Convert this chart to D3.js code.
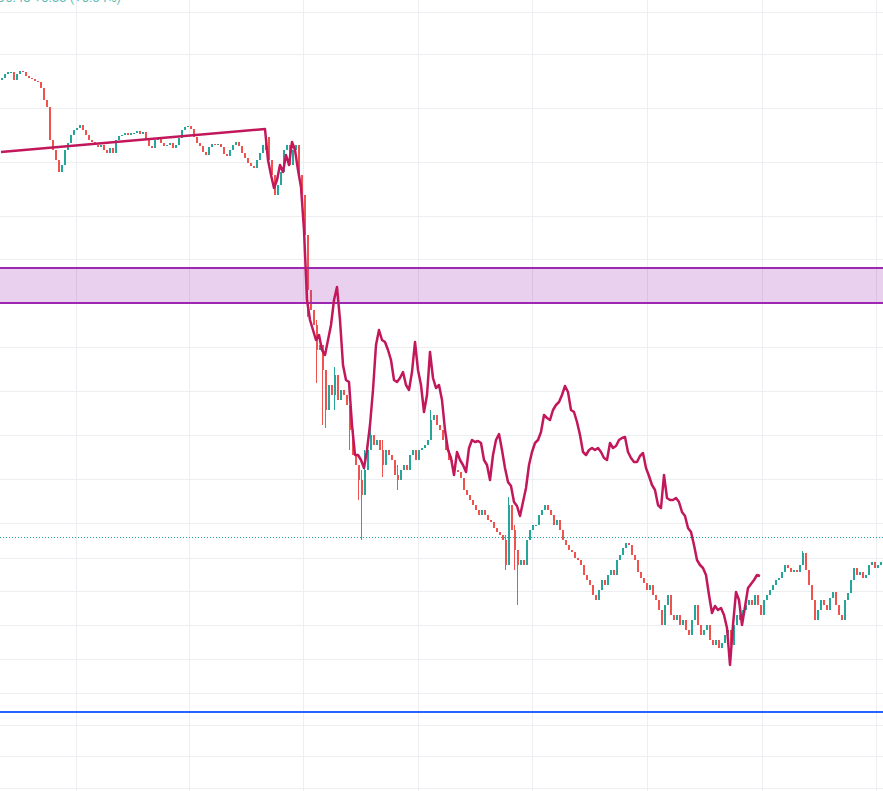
<!DOCTYPE html>
<html><head><meta charset="utf-8">
<script src="https://cdn.jsdelivr.net/npm/d3@7"></script>
<style>html,body{margin:0;padding:0;background:#fff;overflow:hidden}</style>
</head><body>
<svg id="chart" width="883" height="791"></svg>
<script>
// ---- data ----
const closes = [92.2,92.6,92.8,92.8,92.0,92.6,92.9,92.8,92.4,92.2,92.1,91.9,91.8,91.2,90.0,89.3,86.0,85.0,84.0,82.8,83.5,85.0,85.7,86.5,87.0,87.2,87.5,87.0,86.5,86.0,85.8,85.5,85.3,85.5,85.0,84.7,85.2,84.7,86.0,86.4,86.5,86.7,86.5,86.7,86.7,86.9,86.6,86.8,86.0,85.4,85.2,86.0,86.2,85.7,85.4,85.5,85.7,85.2,85.5,86.2,87.0,87.3,87.4,87.1,86.3,85.7,85.4,84.8,84.5,85.3,85.6,85.5,85.6,85.3,84.6,84.4,85.0,85.5,85.8,85.4,84.7,84.2,83.7,83.4,83.2,84.0,84.7,85.5,86.3,84.0,82.5,80.5,81.5,82.8,85.0,85.5,83.5,85.0,85.5,82.5,80.5,76.5,71.0,69.0,67.5,65.0,65.5,63.0,59.0,61.5,60.5,62.5,60.0,61.0,60.5,59.5,57.0,54.5,53.5,52.0,50.5,53.0,55.0,56.5,55.5,56.0,55.0,53.5,55.0,54.5,54.0,52.5,52.0,53.0,53.5,53.0,54.5,55.0,54.0,55.0,55.2,55.5,56.0,58.0,58.5,57.5,57.0,56.0,55.0,54.0,53.5,53.0,52.8,52.2,51.0,50.5,50.0,49.5,49.0,48.5,49.0,48.5,48.0,47.8,47.2,46.8,46.5,46.0,43.5,49.5,47.0,45.0,43.5,44.0,43.5,46.0,47.0,47.5,47.5,48.5,49.0,49.5,49.0,48.5,47.5,48.0,47.0,46.0,45.5,45.0,44.8,44.2,44.0,43.5,42.5,42.0,41.5,40.5,40.0,41.0,42.0,41.5,42.5,43.0,42.5,44.0,44.5,45.2,45.7,45.5,44.5,44.0,42.8,42.2,41.7,41.0,41.5,40.5,40.0,39.0,37.5,39.5,40.5,38.5,38.0,38.5,37.5,38.0,37.0,36.5,38.0,39.5,37.5,36.5,37.0,37.5,36.0,35.5,36.0,35.2,35.7,36.5,37.0,35.5,37.5,38.5,38.0,39.0,39.5,40.0,39.5,40.5,39.5,38.5,40.0,40.5,41.0,41.5,42.0,42.2,42.8,43.5,43.2,42.8,43.0,42.8,43.5,44.7,43.0,41.5,40.0,38.0,39.0,40.0,39.5,39.0,40.2,40.8,39.5,38.5,38.0,40.0,40.7,42.0,43.2,42.5,42.8,42.2,42.5,43.5,43.8,43.2,43.5,43.8,44.0];
const firstOpen = 92.0;
// candles with visible wicks: index, high, low
const wickIndex = [88, 101, 102, 105, 107, 108, 111, 116, 119, 120, 121, 123, 127, 132, 143, 168, 169, 171, 172, 267];
const wickHigh  = [87.1, 77.0, 76.0, 68.0, 62.0, 60.5, 63.3, 58.5, 53.0, 53.0, 55.0, 57.7, 56.0, 53.5, 59.0, 46.5, 50.3, 47.5, 44.5, 44.9];
const wickLow   = [85.0, 75.0, 68.3, 61.7, 57.5, 57.2, 59.0, 55.0, 50.0, 46.0, 51.7, 55.5, 52.3, 51.0, 57.0, 43.0, 46.0, 43.0, 39.5, 43.5];

// moving line: two head points, then one value per candle from lineStart
const lineHeadT = [0, 88];
const lineHeadV = [84.8, 87.1];
const lineStart = 89;
const lineValues = [84.0,82.5,81.2,82.0,83.5,82.8,84.5,83.5,85.8,85.0,83.0,81.3,77.0,70.0,68.0,67.0,66.0,66.5,65.0,64.5,66.0,67.5,70.0,71.3,68.0,63.5,62.0,61.8,57.5,54.5,54.5,54.0,53.2,55.0,57.5,61.0,65.5,67.0,66.0,65.8,65.0,64.0,62.0,61.8,62.2,62.8,61.5,61.0,62.8,65.8,63.0,61.5,58.8,60.5,64.8,62.2,61.2,61.5,60.0,57.0,55.0,54.2,52.5,54.8,54.0,53.5,52.8,55.2,56.0,55.8,55.9,55.7,54.0,53.5,52.0,54.5,56.0,56.6,55.0,53.2,51.8,51.4,49.8,49.4,48.4,49.8,51.2,53.5,54.8,55.7,56.0,56.8,58.5,58.2,58.0,59.0,59.5,59.8,60.5,61.4,60.8,59.0,58.8,57.8,56.5,54.8,54.5,55.0,55.2,55.0,55.2,54.8,54.2,54.0,55.7,55.2,55.4,56.0,56.2,56.3,54.8,54.2,53.8,53.8,54.4,54.7,53.2,52.4,51.5,51.0,49.5,49.2,52.5,50.2,50.0,50.0,50.2,49.8,48.8,48.4,47.2,46.8,45.5,44.0,43.5,43.2,42.5,40.5,38.7,39.4,39.0,39.2,38.5,37.2,33.5,37.5,40.8,40.0,37.5,39.3,41.2,41.6,42.0,42.5,42.4];

const priceGrid = [98.8,94.6,89.2,83.8,78.4,74.1,69.7,65.3,60.9,56.5,52.1,47.7,44.2,40.9,37.5,34.1,30.7,27.5,24.4,21.2];
const timeGrid = [24.9,62.8,100.8,139,177,215.3,253.6,291.6];
const zoneTop = 73.2, zoneBottom = 69.7;
const lastPrice = 46.3;
const supportLevel = 28.8;
const headerText = "96.48 +0.33 (+0.34%)";

// ---- drawing ----
const W = 883, H = 791;
const svg = d3.select("#chart");
const N = closes.length;
const x = d3.scaleLinear().domain([0, N - 1]).range([1, 883]);
const y = d3.scaleLinear().domain([20.9, 100]).range([H, 0]);

const opens = closes.map((c, i) => i === 0 ? firstOpen : closes[i - 1]);
const candles = closes.map((c, i) => {
  const o = opens[i];
  let hi = Math.max(o, c), lo = Math.min(o, c);
  const k = wickIndex.indexOf(i);
  if (k >= 0) { hi = Math.max(hi, wickHigh[k]); lo = Math.min(lo, wickLow[k]); }
  return {i, o, c, hi, lo};
});

const UP = "#26a69a", DOWN = "#ef5350";

// grid
svg.append("g").selectAll("line").data(priceGrid).join("line")
  .attr("x1", 0).attr("x2", W)
  .attr("y1", d => Math.round(y(d)) + 0.5).attr("y2", d => Math.round(y(d)) + 0.5)
  .attr("stroke", "#eceef2").attr("stroke-width", 1);
svg.append("g").selectAll("line").data(timeGrid).join("line")
  .attr("y1", 0).attr("y2", H)
  .attr("x1", d => Math.round(x(d)) + 0.5).attr("x2", d => Math.round(x(d)) + 0.5)
  .attr("stroke", "#eceef2").attr("stroke-width", 1);

// header text (cut at top, as in the source view)
svg.append("text").attr("x", -2).attr("y", 2)
  .attr("font-family", "Roboto, 'Noto Sans', sans-serif").attr("font-size", 13)
  .attr("fill", UP).attr("opacity", 0.75).text(headerText);

// support line
svg.append("line").attr("x1", 0).attr("x2", W)
  .attr("y1", y(supportLevel)).attr("y2", y(supportLevel))
  .attr("stroke", "#2962ff").attr("stroke-width", 2);

// last price dotted line
svg.append("line").attr("x1", 0).attr("x2", W)
  .attr("y1", Math.round(y(lastPrice)) + 0.5).attr("y2", Math.round(y(lastPrice)) + 0.5)
  .attr("stroke", UP).attr("stroke-width", 1).attr("stroke-dasharray", "1,2");

// candles
const cg = svg.append("g");
cg.selectAll("line").data(candles).join("line")
  .attr("x1", d => Math.round(x(d.i)) + 0.5).attr("x2", d => Math.round(x(d.i)) + 0.5)
  .attr("y1", d => y(d.hi)).attr("y2", d => y(d.lo))
  .attr("stroke", d => d.c >= d.o ? UP : DOWN).attr("stroke-width", 1);
cg.selectAll("rect").data(candles).join("rect")
  .attr("x", d => Math.round(x(d.i)))
  .attr("width", 2)
  .attr("y", d => y(Math.max(d.o, d.c)))
  .attr("height", d => Math.max(1, Math.abs(y(d.o) - y(d.c))))
  .attr("fill", d => d.c >= d.o ? UP : DOWN);

// zone band
svg.append("rect").attr("x", 0).attr("width", W)
  .attr("y", y(zoneTop)).attr("height", y(zoneBottom) - y(zoneTop))
  .attr("fill", "rgba(156,39,176,0.22)");
[zoneTop, zoneBottom].forEach(v => {
  svg.append("line").attr("x1", 0).attr("x2", W)
    .attr("y1", y(v)).attr("y2", y(v))
    .attr("stroke", "#9c27b0").attr("stroke-width", 2);
});

// line series
const linePts = lineHeadT.map((t, k) => [t, lineHeadV[k]])
  .concat(lineValues.map((v, k) => [lineStart + k, v]));
const lineGen = d3.line().x(d => x(d[0])).y(d => y(d[1]));
svg.append("path").datum(linePts).attr("d", lineGen)
  .attr("fill", "none").attr("stroke", "#c2185b").attr("stroke-width", 2.5)
  .attr("stroke-linejoin", "round");
</script>
</body></html>
